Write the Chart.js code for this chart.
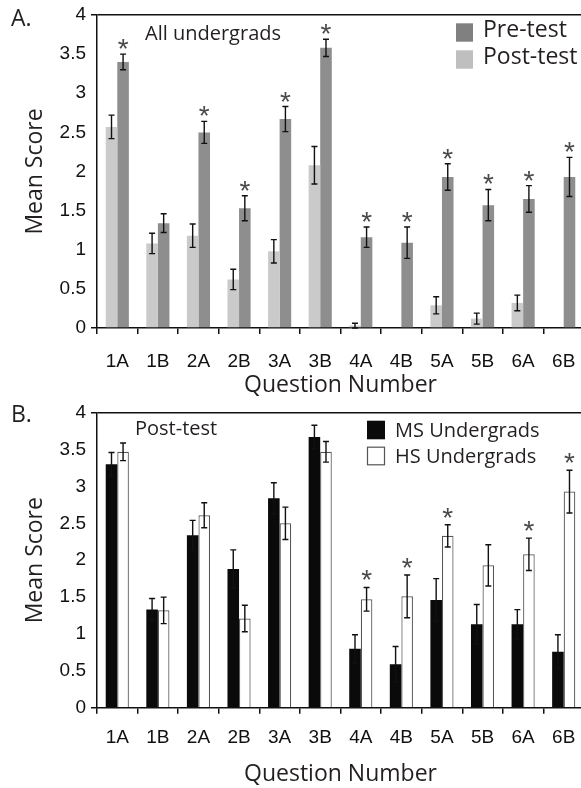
<!DOCTYPE html>
<html><head><meta charset="utf-8">
<script src="https://cdn.jsdelivr.net/npm/chart.js@4/dist/chart.umd.min.js"></script>
<style>
html,body{margin:0;padding:0;background:#fff;overflow:hidden;width:581px;height:788px;position:relative;}
.wrap{position:absolute;left:0;}
#wA{top:0;width:584px;height:400px;}
#wB{top:395px;width:584px;height:393px;}
canvas{display:block;}
</style></head><body>
<div class="wrap" id="wA"><canvas id="cA" width="584" height="400"></canvas></div>
<div class="wrap" id="wB"><canvas id="cB" width="584" height="393"></canvas></div>
<script>
// ---------- data ----------
const categories = ['1A','1B','2A','2B','3A','3B','4A','4B','5A','5B','6A','6B'];

// Panel A: all undergrads
const preTest     = [3.40, 1.34, 2.50, 1.53, 2.67, 3.58, 1.16, 1.09, 1.93, 1.57, 1.65, 1.93];
const preTestErr  = [0.10, 0.12, 0.14, 0.16, 0.16, 0.11, 0.13, 0.20, 0.17, 0.20, 0.17, 0.25];
const preTestSig  = [1, 0, 1, 1, 1, 1, 1, 1, 1, 1, 1, 1];
const postTest    = [2.57, 1.08, 1.18, 0.62, 0.98, 2.08, 0.03, 0.00, 0.29, 0.12, 0.32, 0.00];
const postTestErr = [0.15, 0.13, 0.15, 0.13, 0.15, 0.24, 0.03, 0.00, 0.11, 0.07, 0.10, 0.00];

// Panel B: post-test, MS vs HS undergrads
const msUndergrads    = [3.30, 1.33, 2.34, 1.88, 2.84, 3.67, 0.80, 0.59, 1.46, 1.13, 1.13, 0.76];
const msUndergradsErr = [0.16, 0.15, 0.20, 0.26, 0.21, 0.16, 0.19, 0.24, 0.29, 0.27, 0.20, 0.23];
const hsUndergrads    = [3.47, 1.32, 2.61, 1.21, 2.50, 3.47, 1.47, 1.51, 2.33, 1.93, 2.08, 2.93];
const hsUndergradsErr = [0.12, 0.18, 0.17, 0.18, 0.22, 0.14, 0.16, 0.29, 0.15, 0.28, 0.22, 0.29];
const hsUndergradsSig = [0, 0, 0, 0, 0, 0, 1, 1, 1, 0, 1, 1];

const yMin = 0, yMax = 4, yStep = 0.5;

// ---------- styling helpers ----------
const TXT = '#231f20';
const AX = '#111';
const HUM = '"Open Sans", "Noto Sans", sans-serif';
const TICKF = '"Liberation Sans", Arial, sans-serif';

function yScale(){
  return {
    min: yMin, max: yMax,
    ticks: {stepSize: yStep, padding: 5, color: AX, font: {family: TICKF, size: 19},
            callback: v => String(Math.round(v * 100) / 100)},
    grid: {
      drawOnChartArea: true, drawTicks: true, tickLength: 6, lineWidth: 1.5,
      color: c => (c.tick && c.tick.value === yMax) ? AX : 'rgba(0,0,0,0)',
      tickColor: c => (c.tick && (c.tick.value === yMin || c.tick.value === yMax)) ? AX : 'rgba(0,0,0,0)'
    },
    border: {display: true, color: AX, width: 1.5},
    title: {display: true, text: 'Mean Score', color: TXT, font: {family: HUM, size: 23}, padding: {top: 22, bottom: 0}},
    afterFit(s){ s.width = 97; s.paddingTop = 0; s.paddingBottom = 0; }
  };
}
function xScale(height, labelPad, titlePad){
  return {
    ticks: {padding: labelPad, color: AX, font: {family: TICKF, size: 19}, maxRotation: 0, autoSkip: false},
    grid: {offset: true, drawOnChartArea: false, drawTicks: true, tickLength: 6, lineWidth: 1.5, color: AX},
    border: {display: true, color: AX, width: 1.5},
    title: {display: true, text: 'Question Number', color: TXT, font: {family: HUM, size: 23}, padding: {top: 0, bottom: titlePad}},
    afterFit(s){ s.height = height; s.paddingLeft = 0; s.paddingRight = 0; }
  };
}

function drawStar(ctx, cx, cy, color){
  ctx.save();
  ctx.font = '28px ' + TICKF;
  ctx.fillStyle = color;
  ctx.textAlign = 'center';
  ctx.textBaseline = 'alphabetic';
  const m = ctx.measureText('*');
  const asc = m.actualBoundingBoxAscent, desc = m.actualBoundingBoxDescent;
  ctx.fillText('*', cx, cy + (asc - desc) / 2);
  ctx.restore();
}

const decor = {
  id: 'decor',
  afterDatasetsDraw(chart, args, o){
    const ctx = chart.ctx, ys = chart.scales.y;
    ctx.save();
    chart.data.datasets.forEach((ds, i) => {
      const meta = chart.getDatasetMeta(i);
      meta.data.forEach((bar, j) => {
        const v = ds.data[j], e = ds.err ? ds.err[j] : 0;
        let top = ys.getPixelForValue(v);
        if (e > 0) {
          const y1 = ys.getPixelForValue(v + e), y2 = ys.getPixelForValue(Math.max(v - e, 0));
          ctx.strokeStyle = AX; ctx.lineWidth = 1.4;
          ctx.beginPath();
          ctx.moveTo(bar.x, y1); ctx.lineTo(bar.x, y2);
          ctx.moveTo(bar.x - 3, y1); ctx.lineTo(bar.x + 3, y1);
          ctx.moveTo(bar.x - 3, y2); ctx.lineTo(bar.x + 3, y2);
          ctx.stroke();
          top = y1;
        }
        if (ds.sig && ds.sig[j]) drawStar(ctx, bar.x, top - o.starGap, '#4a4a4a');
      });
    });
    ctx.restore();
  },
  afterDraw(chart, args, o){
    const ctx = chart.ctx;
    ctx.save();
    ctx.fillStyle = TXT;
    ctx.textAlign = 'left';
    ctx.textBaseline = 'alphabetic';
    (o.texts || []).forEach(t => {
      ctx.font = t.size + 'px ' + HUM;
      ctx.fillText(t.text, t.x, t.y);
    });
    const L = o.legend;
    if (L) {
      L.order.forEach((di, k) => {
        const ds = chart.data.datasets[di];
        const sy = L.y + k * L.step;
        ctx.fillStyle = L.colors ? L.colors[k] : ds.backgroundColor;
        ctx.fillRect(L.x, sy, L.w, L.h);
        if (ds.borderWidth) {
          ctx.strokeStyle = ds.borderColor; ctx.lineWidth = 1.2;
          ctx.strokeRect(L.x + 0.5, sy + 0.5, L.w - 1, L.h - 1);
        }
        ctx.fillStyle = TXT;
        ctx.font = L.size + 'px ' + HUM;
        ctx.fillText(ds.label, L.tx, sy + L.base);
      });
    }
    ctx.restore();
  }
};

Chart.defaults.animation = false;

// ---------- Panel A ----------
new Chart(document.getElementById('cA'), {
  type: 'bar',
  data: {
    labels: categories,
    datasets: [
      {label: 'Post-test', data: postTest, err: postTestErr, backgroundColor: '#cacaca', borderWidth: 0,
       barPercentage: 1, categoryPercentage: 0.57},
      {label: 'Pre-test', data: preTest, err: preTestErr, sig: preTestSig, backgroundColor: '#8e8e8e', borderWidth: 0,
       barPercentage: 1, categoryPercentage: 0.57}
    ]
  },
  options: {
    responsive: false,
    devicePixelRatio: 1,
    layout: {padding: {top: 15, left: 0, right: 0, bottom: 0}},
    scales: {x: xScale(72, 16, 1), y: yScale()},
    plugins: {
      legend: {display: false}, tooltip: {enabled: false},
      decor: {
        starGap: 10,
        texts: [
          {text: 'A.', x: 11, y: 26, size: 23},
          {text: 'All undergrads', x: 145, y: 39.5, size: 20}
        ],
        legend: {order: [1, 0], colors: ['#808080', '#bfbfbf'], x: 456, y: 23.3, w: 17, h: 18.4, step: 27, tx: 483, base: 13.4, size: 23}
      }
    }
  },
  plugins: [decor]
});

// ---------- Panel B ----------
new Chart(document.getElementById('cB'), {
  type: 'bar',
  data: {
    labels: categories,
    datasets: [
      {label: 'MS Undergrads', data: msUndergrads, err: msUndergradsErr, backgroundColor: '#0a0a0a', borderWidth: 0,
       barPercentage: 1, categoryPercentage: 0.57},
      {label: 'HS Undergrads', data: hsUndergrads, err: hsUndergradsErr, sig: hsUndergradsSig, backgroundColor: '#ffffff',
       borderColor: '#555', borderWidth: 1.2, barPercentage: 1, categoryPercentage: 0.57}
    ]
  },
  options: {
    responsive: false,
    devicePixelRatio: 1,
    layout: {padding: {top: 17.7, left: 0, right: 0, bottom: 0}},
    scales: {x: xScale(80.3, 13, 0), y: yScale()},
    plugins: {
      legend: {display: false}, tooltip: {enabled: false},
      decor: {
        starGap: 12,
        texts: [
          {text: 'B.', x: 11, y: 27, size: 23},
          {text: 'Post-test', x: 135, y: 40, size: 20}
        ],
        legend: {order: [0, 1], x: 367, y: 25.7, w: 18, h: 18.6, step: 26, tx: 395, base: 16, size: 20}
      }
    }
  },
  plugins: [decor]
});
</script>
</body></html>
